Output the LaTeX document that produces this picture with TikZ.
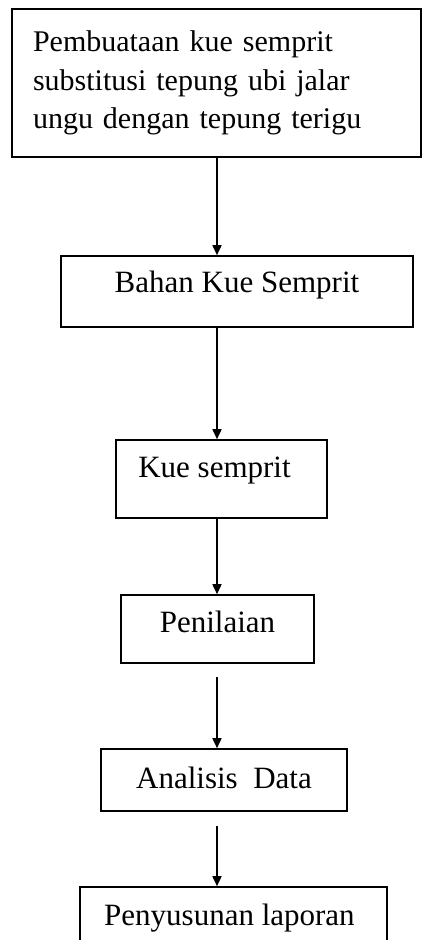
\documentclass[tikz,border=0pt]{standalone}
\usepackage{fontspec}
\setmainfont{Liberation Serif}
\usetikzlibrary{arrows.meta}
\begin{document}
\begin{tikzpicture}[x=1pt,y=-1pt,
  boxnode/.style={draw=black,line width=1.6pt,inner sep=0pt,
    font=\fontsize{31}{38.5}\selectfont},
  arr/.style={draw=black,line width=1.6pt,-{Triangle[length=10pt,width=9pt]}}]
\useasboundingbox (0,0) rectangle (423,940);
\clip (0,0) rectangle (423,940);
\node[boxnode,minimum width=409pt,minimum height=148pt,text width=367pt,align=left,
  font=\fontsize{30}{38.5}\selectfont]
  (b1) at (216.5,83) {Pembuataan kue semprit\\substitusi tepung ubi jalar\\ungu dengan tepung terigu};
\node[boxnode,minimum width=352pt,minimum height=71pt,text height=15pt,text depth=14pt]
  (b2) at (237,291.5) {Bahan Kue Semprit};
\node[boxnode,minimum width=211pt,minimum height=78pt,text height=12pt,text depth=16pt]
  (b3) at (221.5,479) {\hspace*{-14pt}Kue semprit};
\node[boxnode,minimum width=193pt,minimum height=68pt,text height=18pt,text depth=12pt]
  (b4) at (217.5,629) {Penilaian};
\node[boxnode,minimum width=246pt,minimum height=62pt,text height=22pt,text depth=6pt]
  (b5) at (224,780) {Analisis\ \ Data};
\node[boxnode,minimum width=307pt,minimum height=76pt,text height=14pt,text depth=14pt]
  (b6) at (233.5,925) {\hspace*{-8pt}Penyusunan laporan};
\coordinate (ax) at (217,0);
\coordinate (s4) at (217,677);
\coordinate (s5) at (217,826);
\draw[arr] (b1.south -| ax) -- (b2.north -| ax);
\draw[arr] (b2.south -| ax) -- (b3.north -| ax);
\draw[arr] (b3.south -| ax) -- (b4.north -| ax);
\draw[arr] (s4) -- (b5.north -| ax);
\draw[arr] (s5) -- (b6.north -| ax);
\end{tikzpicture}
\end{document}
